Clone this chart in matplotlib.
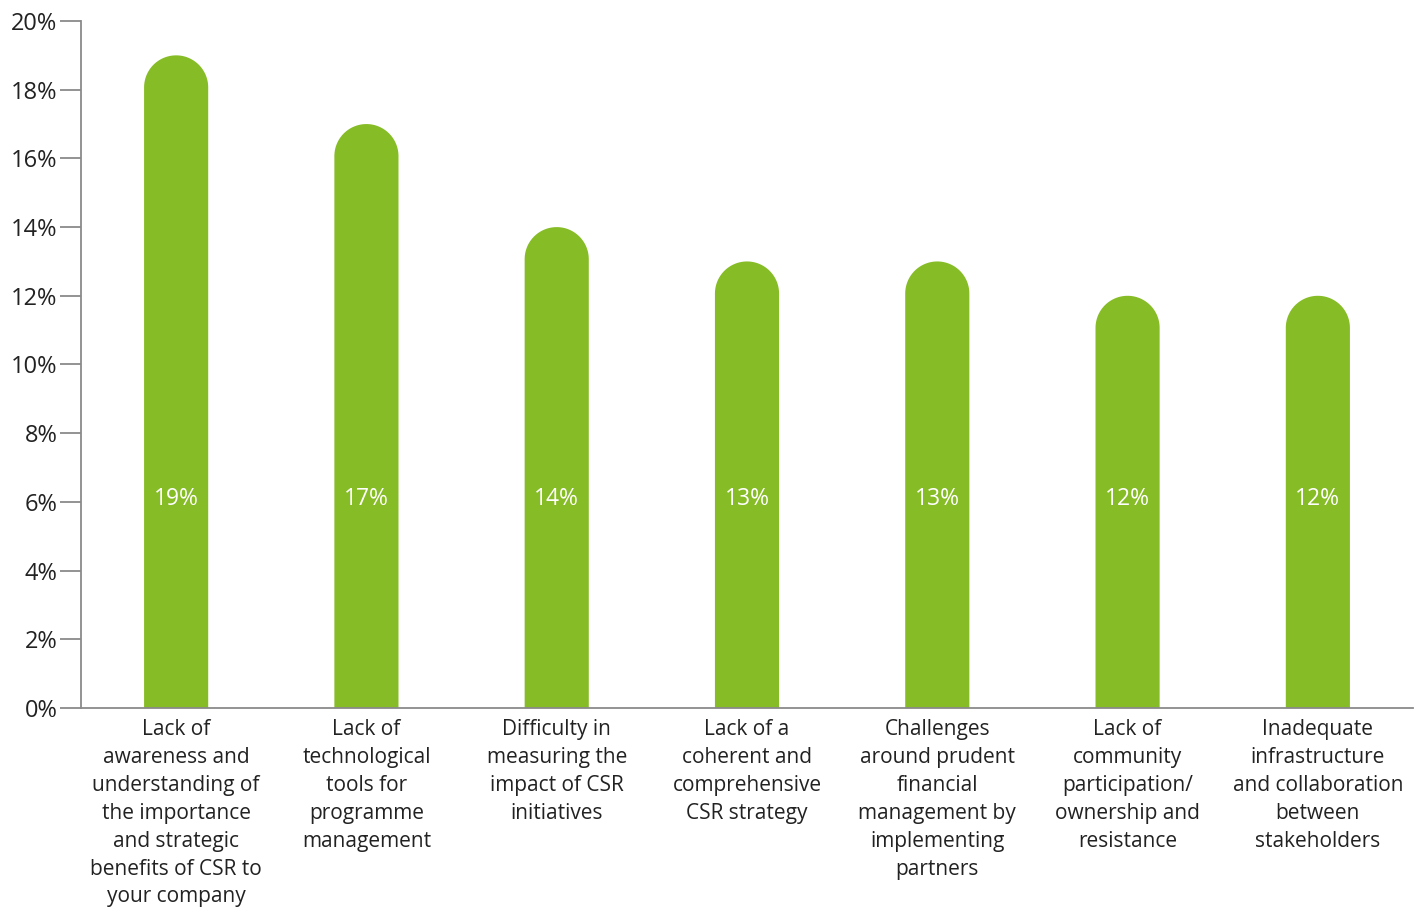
import numpy as np
import matplotlib
matplotlib.use("Agg")
import matplotlib.pyplot as plt
from matplotlib.patches import Polygon
from matplotlib.ticker import FuncFormatter, MultipleLocator

plt.rcParams['font.family'] = ['Open Sans', 'DejaVu Sans']

categories = [
    "Lack of\nawareness and\nunderstanding of\nthe importance\nand strategic\nbenefits of CSR to\nyour company",
    "Lack of\ntechnological\ntools for\nprogramme\nmanagement",
    "Difficulty in\nmeasuring the\nimpact of CSR\ninitiatives",
    "Lack of a\ncoherent and\ncomprehensive\nCSR strategy",
    "Challenges\naround prudent\nfinancial\nmanagement by\nimplementing\npartners",
    "Lack of\ncommunity\nparticipation/\nownership and\nresistance",
    "Inadequate\ninfrastructure\nand collaboration\nbetween\nstakeholders",
]
values = [19, 17, 14, 13, 13, 12, 12]

GREEN = "#86BC25"
TEXT = "#222222"
AXIS = "#8a8a8a"

W, H = 1421, 908
fig = plt.figure(figsize=(W / 100, H / 100), dpi=100)
ax = fig.add_axes([81 / W, (H - 708) / H, (1413 - 81) / W, (708 - 21) / H])

ax.set_xlim(-0.5, len(values) - 0.5)
ax.set_ylim(0, 20)

bar_w = 0.337
# vertical radius of the rounded cap in data units, so the cap is a true semicircle
ax_w_px = 1413 - 81
ax_h_px = 708 - 21
half_w_px = bar_w / len(values) * ax_w_px / 2
ry = half_w_px / ax_h_px * 20
rx = bar_w / 2

t = np.linspace(np.pi, 0, 60)
for i, v in enumerate(values):
    cy = v - ry
    arc = np.column_stack([i + rx * np.cos(t), cy + ry * np.sin(t)])
    pts = np.vstack([[i - rx, 0], arc, [i + rx, 0]])
    ax.add_patch(Polygon(pts, closed=True, facecolor=GREEN,
                         edgecolor="none", zorder=2))
    ax.text(i, 6.08, f"{v}%", ha="center", va="center", color="white",
            fontsize=16.5, zorder=3)

ax.yaxis.set_major_locator(MultipleLocator(2))
ax.yaxis.set_major_formatter(FuncFormatter(lambda y, _: f"{y:.0f}%"))
ax.tick_params(axis="y", length=15, width=1.3, color=AXIS, labelsize=17,
               labelcolor=TEXT, pad=2)
ax.set_xticks(range(len(values)))
ax.set_xticklabels(categories, fontsize=15, color=TEXT, linespacing=1.43)
ax.tick_params(axis="x", length=0, pad=8)

for side in ["top", "right"]:
    ax.spines[side].set_visible(False)
for side in ["left", "bottom"]:
    ax.spines[side].set_color(AXIS)
    ax.spines[side].set_linewidth(1.3)
ax.spines["bottom"].set_zorder(4)

fig.savefig("out.png", dpi=100)
